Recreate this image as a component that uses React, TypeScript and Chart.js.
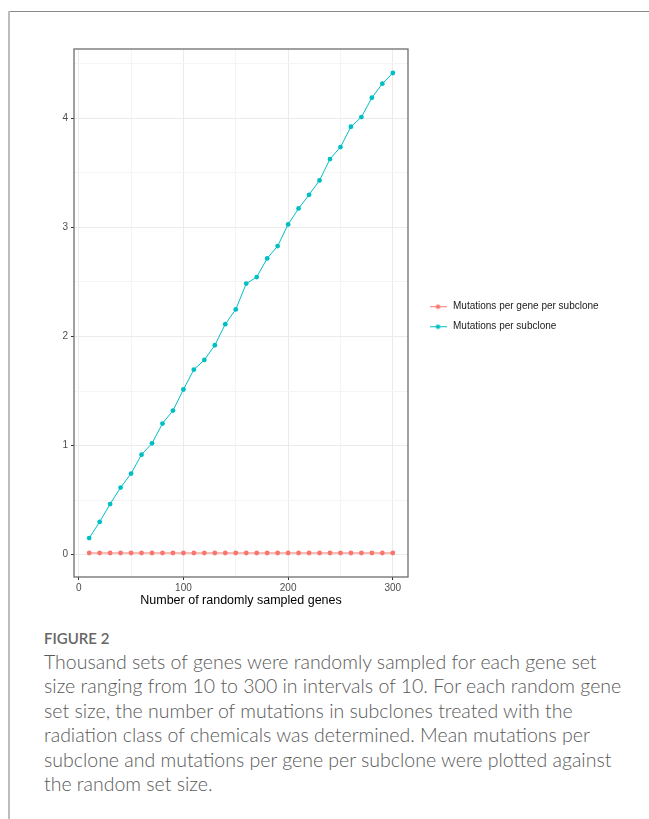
import React, { useEffect, useRef } from 'react';
import { Chart, registerables } from 'chart.js';

Chart.register(...registerables);

// ---------- data ----------
const sampleSizes = [10, 20, 30, 40, 50, 60, 70, 80, 90, 100, 110, 120, 130, 140, 150, 160, 170, 180, 190, 200, 210, 220, 230, 240, 250, 260, 270, 280, 290, 300];
const mutationsPerGenePerSubclone = [0.015, 0.015, 0.015, 0.015, 0.015, 0.015, 0.015, 0.015, 0.015, 0.015, 0.015, 0.015, 0.015, 0.015, 0.015, 0.015, 0.015, 0.015, 0.015, 0.015, 0.015, 0.015, 0.015, 0.015, 0.015, 0.015, 0.015, 0.015, 0.015, 0.015];
const mutationsPerSubclone = [0.152, 0.300, 0.464, 0.615, 0.743, 0.917, 1.021, 1.202, 1.321, 1.514, 1.697, 1.785, 1.920, 2.113, 2.248, 2.485, 2.545, 2.716, 2.829, 3.028, 3.174, 3.299, 3.431, 3.627, 3.737, 3.923, 4.012, 4.189, 4.318, 4.416];
const seriesLabels = ['Mutations per gene per subclone', 'Mutations per subclone'];
const seriesColors = ['#F8766D', '#00BFC4'];
const xGridValues = [0, 50, 100, 150, 200, 250, 300];
const xTickLabels = [0, 100, 200, 300];
const yGridValues = [0, 0.5, 1, 1.5, 2, 2.5, 3, 3.5, 4, 4.5];
const yTickLabels = [0, 1, 2, 3, 4];
const xAxisTitle = 'Number of randomly sampled genes';
const figureLabel = 'FIGURE 2';
const captionLines = [
  'Thousand sets of genes were randomly sampled for each gene set',
  'size ranging from 10 to 300 in intervals of 10. For each random gene',
  'set size, the number of mutations in subclones treated with the',
  'radiation class of chemicals was determined. Mean mutations per',
  'subclone and mutations per gene per subclone were plotted against',
  'the random set size.',
];

const FONT = "'Liberation Sans', Arial, Helvetica, sans-serif";

function makeLegendIcon(color: string): HTMLCanvasElement {
  const c = document.createElement('canvas');
  c.width = 17;
  c.height = 7;
  const g = c.getContext('2d')!;
  g.strokeStyle = color;
  g.lineWidth = 1;
  g.beginPath();
  g.moveTo(0, 3.5);
  g.lineTo(17, 3.5);
  g.stroke();
  g.fillStyle = color;
  g.beginPath();
  g.arc(8.5, 3.5, 2.3, 0, Math.PI * 2);
  g.fill();
  return c;
}

const panelBorder = {
  id: 'panelBorder',
  afterDraw(chart: any) {
    const { ctx, chartArea } = chart;
    ctx.save();
    ctx.strokeStyle = '#6e6e6e';
    ctx.lineWidth = 1.3;
    ctx.strokeRect(chartArea.left, chartArea.top, chartArea.right - chartArea.left, chartArea.bottom - chartArea.top);
    ctx.restore();
  },
};

const legendPlace = {
  id: 'legendPlace',
  afterLayout(chart: any) {
    const lg = chart.legend;
    if (!lg) return;
    lg.left = 418;
    lg.right = 649;
    lg.width = 649 - 418;
    lg.top = 0;
    lg.bottom = 633.4;
    lg.height = 633.4;
  },
};

function isIn(list: number[], v: number) {
  return list.some((t) => Math.abs(t - v) < 1e-9);
}

export default function App() {
  const ref = useRef<HTMLCanvasElement | null>(null);

  useEffect(() => {
    if (!ref.current) return;
    const icons = seriesColors.map(makeLegendIcon);
    const seriesValues = [mutationsPerGenePerSubclone, mutationsPerSubclone];
    const chart = new Chart(ref.current, {
      type: 'line',
      data: {
        datasets: seriesLabels.map((label, i) => ({
          label,
          data: sampleSizes.map((x, j) => ({ x, y: seriesValues[i][j] })),
          borderColor: seriesColors[i],
          backgroundColor: seriesColors[i],
          pointBackgroundColor: seriesColors[i],
          pointBorderWidth: 0,
          pointRadius: 2.4,
          borderWidth: 1,
          tension: 0,
          fill: false,
        })),
      },
      options: {
        animation: false,
        responsive: false,
        maintainAspectRatio: false,
        devicePixelRatio: 1,
        layout: { padding: { left: 0, top: 49, right: 91, bottom: 12 } },
        plugins: {
          tooltip: { enabled: false },
          legend: {
            position: 'right',
            maxWidth: 150,
            labels: {
              usePointStyle: true,
              pointStyleWidth: 20,
              padding: 10,
              color: '#1a1a1a',
              font: { family: FONT, size: 10 },
              generateLabels: (c: any) =>
                c.data.datasets.map((ds: any, i: number) => ({
                  text: ds.label,
                  pointStyle: icons[i],
                  fillStyle: ds.borderColor,
                  strokeStyle: ds.borderColor,
                  lineWidth: 0,
                  hidden: false,
                  datasetIndex: i,
                  fontColor: '#1a1a1a',
                })),
            },
          },
        },
        scales: {
          x: {
            type: 'linear',
            min: -4.5,
            max: 314.5,
            afterBuildTicks: (s: any) => {
              s.ticks = xGridValues.map((value) => ({ value }));
            },
            afterFit: (s: any) => {
              s.height = 31;
            },
            border: { display: false },
            grid: {
              color: (c: any) => (c.tick && isIn(xTickLabels, c.tick.value) ? '#ebebeb' : '#f4f4f4'),
              lineWidth: 1,
              tickLength: 3,
              tickColor: (c: any) => (c.tick && isIn(xTickLabels, c.tick.value) ? '#333333' : 'rgba(0,0,0,0)'),
            },
            ticks: {
              autoSkip: false,
              maxRotation: 0,
              padding: 2,
              color: '#4d4d4d',
              font: { family: FONT, size: 10 },
              callback: (v: any) => (isIn(xTickLabels, Number(v)) ? String(v) : ''),
            },
            title: {
              display: true,
              text: xAxisTitle,
              color: '#000000',
              padding: 0,
              font: { family: FONT, size: 12.5 },
            },
          },
          y: {
            type: 'linear',
            min: -0.205,
            max: 4.636,
            afterBuildTicks: (s: any) => {
              s.ticks = yGridValues.map((value) => ({ value }));
            },
            afterFit: (s: any) => {
              s.width = 74;
            },
            border: { display: false },
            grid: {
              color: (c: any) => (c.tick && isIn(yTickLabels, c.tick.value) ? '#ebebeb' : '#f4f4f4'),
              lineWidth: 1,
              tickLength: 3,
              tickColor: (c: any) => (c.tick && isIn(yTickLabels, c.tick.value) ? '#333333' : 'rgba(0,0,0,0)'),
            },
            ticks: {
              autoSkip: false,
              padding: 3,
              color: '#4d4d4d',
              font: { family: FONT, size: 10 },
              callback: (v: any) => (isIn(yTickLabels, Number(v)) ? String(v) : ''),
            },
          },
        },
      },
      plugins: [panelBorder, legendPlace],
    });
    return () => chart.destroy();
  }, []);

  return (
    <div style={{ position: 'absolute', left: 0, top: 0, width: 649, height: 819, overflow: 'hidden', background: '#ffffff' }}>
      <div style={{ position: 'absolute', left: 8, top: 11, width: 641, height: 1, background: '#8a8a8a' }} />
      <div style={{ position: 'absolute', left: 8, top: 11, width: 2, height: 808, background: '#bdbdbd' }} />
      <canvas ref={ref} width={649} height={620} style={{ position: 'absolute', left: 0, top: 0, display: 'block' }} />
      <div
        style={{
          position: 'absolute',
          left: 44,
          top: 629,
          fontFamily: 'Lato, "Open Sans", sans-serif',
          fontWeight: 600,
          fontSize: 15,
          lineHeight: '18px',
          color: '#666666',
          whiteSpace: 'nowrap',
        }}
      >
        {figureLabel}
      </div>
      <div
        style={{
          position: 'absolute',
          left: 44,
          top: 650,
          fontFamily: 'Lato, "Open Sans", sans-serif',
          fontWeight: 300,
          fontSize: 19.5,
          lineHeight: '24.4px',
          color: '#595959',
          whiteSpace: 'nowrap',
        }}
      >
        {captionLines.map((line, i) => (
          <div key={i}>{line}</div>
        ))}
      </div>
    </div>
  );
}
